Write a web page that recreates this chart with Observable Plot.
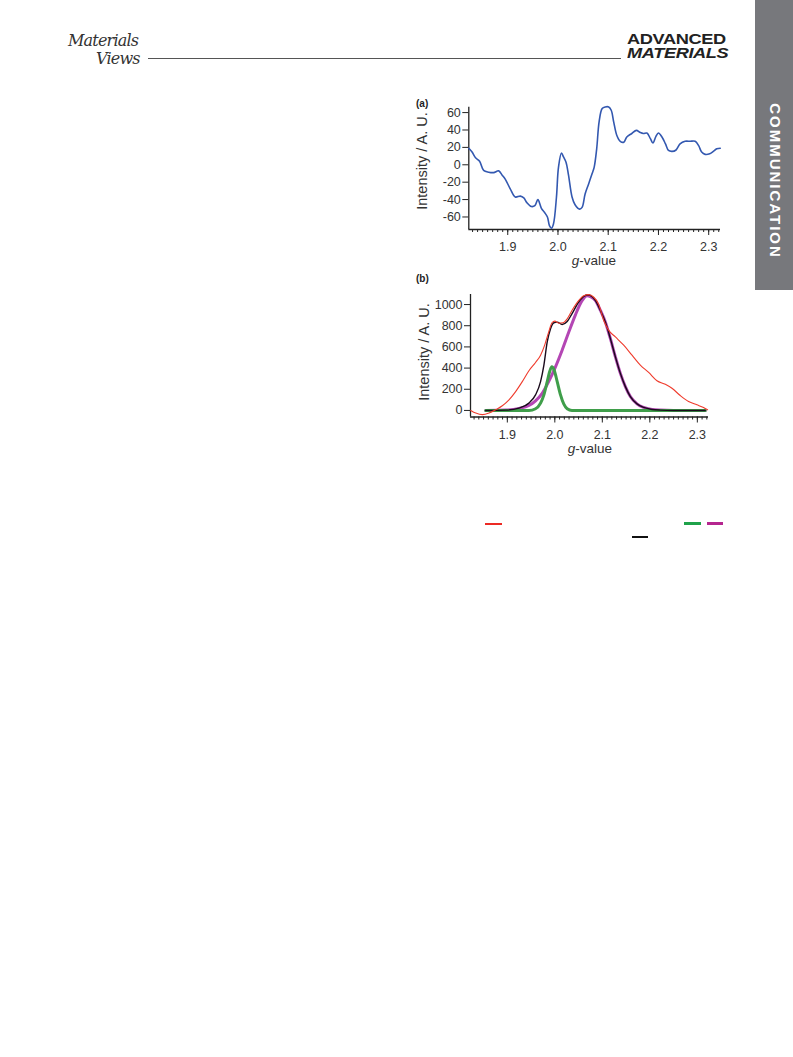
<!DOCTYPE html>
<html>
<head>
<meta charset="utf-8">
<script src="https://cdn.jsdelivr.net/npm/d3@7"></script>
<script src="https://cdn.jsdelivr.net/npm/@observablehq/plot@0.6"></script>
<style>
  html, body { margin: 0; padding: 0; background: #fff; }
  #page { position: relative; width: 793px; height: 1057px; overflow: hidden; font-family: "Liberation Sans", Arial, sans-serif; }
  .abs { position: absolute; }
  #rule { left: 148px; top: 58px; width: 473px; height: 1px; background: #555; }
  .brand { left: 627px; font-weight: 900; font-size: 14px; line-height: 14px; color: #222; letter-spacing: -0.3px; transform-origin: 0 0; transform: scaleX(1.3); white-space: nowrap; }
  #logo1 { left: 68px; top: 32px; }
  #logo2 { left: 96px; top: 50px; }
  .logo { font-family: "DejaVu Serif", serif; font-style: italic; color: #333; font-size: 16px; line-height: 18px; letter-spacing: -0.8px; }
  #tab { left: 755px; top: 0; width: 38px; height: 290px; background: #77787c; }
  #tab span { position: absolute; left: 20px; top: 181px; transform: translate(-50%, -50%) rotate(90deg); color: #fff; font-weight: 900; font-size: 15px; letter-spacing: 2px; white-space: nowrap; }
  .panel { font-size: 10px; font-weight: bold; color: #222; }
  .chart { position: absolute; left: 410px; }
  .key { position: absolute; }
</style>
</head>
<body>
<div id="page">
  <div id="logo1" class="abs logo">Materials</div>
  <div id="logo2" class="abs logo">Views</div>
  <div id="rule" class="abs"></div>
  <div class="abs brand" style="top:32px;">ADVANCED</div>
  <div class="abs brand" style="top:46px; font-style:italic;">MATERIALS</div>
  <div id="tab" class="abs"><span>COMMUNICATION</span></div>
  <div class="abs panel" style="left:416px; top:98px;">(a)</div>
  <div class="abs panel" style="left:416px; top:273px;">(b)</div>
  <div id="chartA" class="chart" style="top:96px;"></div>
  <div id="chartB" class="chart" style="top:282px;"></div>
  <div class="key" style="left:485px; top:523px; width:17px; height:1.5px; background:#ec2a24;"></div>
  <div class="key" style="left:632px; top:536px; width:16px; height:1.5px; background:#111;"></div>
  <div class="key" style="left:684px; top:522px; width:17px; height:3px; background:#1fa24a;"></div>
  <div class="key" style="left:707px; top:522px; width:16px; height:3px; background:#b5268f;"></div>
</div>
<script>
// (a) EPR derivative spectrum
const gA = [1.8225,1.829,1.836,1.844,1.852,1.862,1.872,1.882,1.889,1.895,1.905,1.915,1.925,1.932,1.938,1.947,1.954,1.960,1.967,1.973,1.979,1.983,1.987,1.991,1.997,2.001,2.007,2.011,2.016,2.021,2.028,2.034,2.043,2.048,2.054,2.061,2.068,2.072,2.077,2.082,2.088,2.094,2.101,2.106,2.111,2.117,2.124,2.131,2.137,2.147,2.156,2.164,2.170,2.177,2.184,2.189,2.195,2.200,2.207,2.214,2.220,2.227,2.235,2.243,2.253,2.263,2.273,2.280,2.286,2.293,2.302,2.310,2.316,2.323];
const intensityA = [19,14.6,8,4,-6.5,-8.5,-9,-7,-12,-16.5,-27.7,-37,-36,-38,-43.5,-48,-47,-40,-50,-54.6,-60,-70,-73,-68,-37,-3,13.5,9,3,-12,-37,-46,-51,-49,-33.5,-22,-10,-3,18,50,64.6,66.5,66.5,62.7,49,34,27,26,32,36,39.6,37,36,36.5,30,25,32.7,36.5,32,24,16.5,15.4,17,24,27,27,27,22,14.6,12,12.7,15.8,18.5,19];

// (b) integrated spectrum (experiment), simulation and its two components
const gExp = [1.823,1.8336,1.8476,1.8615,1.8755,1.8895,1.9035,1.9175,1.9315,1.9455,1.9594,1.970,1.979,1.987,1.994,2.000,2.008,2.017,2.026,2.036,2.050,2.061,2.071,2.082,2.092,2.103,2.1135,2.1275,2.145,2.1625,2.180,2.1975,2.215,2.2326,2.2466,2.264,2.2816,2.299,2.313,2.3215];
const intensityExp = [0,-25,-40,-25,6,44,100,178,272,375,453,522,622,740,828,844,825,828,865,944,1037,1084,1094,1069,1006,850,756,694,616,522,428,359,281,247,209,141,84,53,28,6];

const gSim = [1.8545,1.8965,1.9245,1.9455,1.9594,1.970,1.977,1.984,1.991,1.998,2.005,2.0154,2.026,2.036,2.050,2.061,2.070,2.0855,2.096,2.1065,2.117,2.1275,2.138,2.1485,2.159,2.173,2.187,2.2046,2.222,2.25,2.3166];
const intensitySim = [0,3,22,69,147,272,428,647,772,828,834,812,840,912,1022,1078,1090,1037,944,834,678,506,350,225,131,62,28,9,3,0,0];

const gBroad = [1.8545,1.8965,1.9245,1.9455,1.9594,1.9734,1.987,2.0014,2.0154,2.0294,2.0434,2.0573,2.0678,2.076,2.0855,2.096,2.1065,2.117,2.1275,2.138,2.1485,2.159,2.173,2.187,2.2046,2.222,2.25,2.3166];
const intensityBroad = [0,3,19,47,91,162,272,412,569,740,903,1037,1084,1072,1037,944,834,678,506,350,225,131,62,28,9,3,0,0];

const gNarrow = [1.8545,1.9455,1.9594,1.970,1.977,1.984,1.9895,1.9937,1.9986,2.005,2.012,2.019,2.026,2.036,2.3166];
const intensityNarrow = [0,0,16,69,147,272,372,412,381,272,147,59,16,0,0];

const gTicks = [1.9, 2.0, 2.1, 2.2, 2.3];
const yTicksA = [-60, -40, -20, 0, 20, 40, 60];
const yTicksB = [0, 200, 400, 600, 800, 1000];

const gDomain = [1.8225, 2.3235];
const minorTicks = d3.range(183, 233).map(d => d / 100);

const toRows = (xs, ys) => xs.map((g, i) => ({g, v: ys[i]}));

const font = '"Liberation Sans", Arial, sans-serif';

function axes(yDomain, yTicks) {
  return [
    Plot.axisX({ticks: minorTicks, tickSize: 3, tickFormat: () => "", label: null, stroke: "#222"}),
    Plot.axisX({ticks: gTicks, tickSize: 6, tickPadding: 7, tickFormat: d3.format(".1f"), label: null, stroke: "#222", fill: "#333", fontSize: 12.5}),
    Plot.axisY({ticks: yTicks, tickSize: 6, tickPadding: 2, tickFormat: d => String(d), label: null, stroke: "#222", fill: "#333", fontSize: 12.5}),
    Plot.ruleX([gDomain[0]], {stroke: "#222", strokeWidth: 1.3}),
    Plot.ruleY([yDomain[0]], {stroke: "#222", strokeWidth: 1.3})
  ];
}

function addLabels(svg, yLabelPos, xLabelPos) {
  const s = d3.select(svg);
  s.append("text")
    .attr("transform", `translate(${yLabelPos[0]},${yLabelPos[1]}) rotate(-90)`)
    .attr("text-anchor", "middle")
    .attr("dominant-baseline", "middle")
    .attr("font-family", font).attr("font-size", 14.5).attr("fill", "#333")
    .text("Intensity / A. U.");
  const t = s.append("text")
    .attr("x", xLabelPos[0]).attr("y", xLabelPos[1])
    .attr("text-anchor", "middle")
    .attr("font-family", font).attr("font-size", 13.5).attr("fill", "#333");
  t.append("tspan").attr("font-style", "italic").text("g");
  t.append("tspan").text("-value");
}

// Panel (a)
const yDomA = [-74.4, 66.2];
const chartA = Plot.plot({
  width: 320, height: 180,
  marginLeft: 58.3, marginRight: 10, marginTop: 10.7, marginBottom: 47,
  style: {fontFamily: font, background: "transparent", overflow: "visible"},
  x: {domain: gDomain},
  y: {domain: yDomA},
  marks: [
    ...axes(yDomA, yTicksA),
    Plot.line(toRows(gA, intensityA), {x: "g", y: "v", stroke: "#3358b0", strokeWidth: 1.6, curve: "catmull-rom"})
  ]
});
addLabels(chartA, [13, 65], [184, 169]);
document.getElementById("chartA").append(chartA);

// Panel (b)
const yDomB = [-62, 1095];
const chartB = Plot.plot({
  width: 308, height: 182,
  marginLeft: 60, marginRight: 10, marginTop: 12, marginBottom: 47.5,
  style: {fontFamily: font, background: "transparent", overflow: "visible"},
  x: {domain: gDomain},
  y: {domain: yDomB},
  marks: [
    ...axes(yDomB, yTicksB),
    Plot.line(toRows(gBroad, intensityBroad), {x: "g", y: "v", stroke: "#b446b4", strokeWidth: 3, curve: "monotone-x"}),
    Plot.line(toRows(gNarrow, intensityNarrow), {x: "g", y: "v", stroke: "#3f9e4a", strokeWidth: 3, curve: "monotone-x"}),
    Plot.line(toRows(gSim, intensitySim), {x: "g", y: "v", stroke: "#1a0b1c", strokeWidth: 1.4, curve: "monotone-x"}),
    Plot.line(toRows(gExp, intensityExp), {x: "g", y: "v", stroke: "#ef3b2c", strokeWidth: 1.1, curve: "monotone-x"})
  ]
});
addLabels(chartB, [15, 70], [180, 171]);
document.getElementById("chartB").append(chartB);
</script>
</body>
</html>
